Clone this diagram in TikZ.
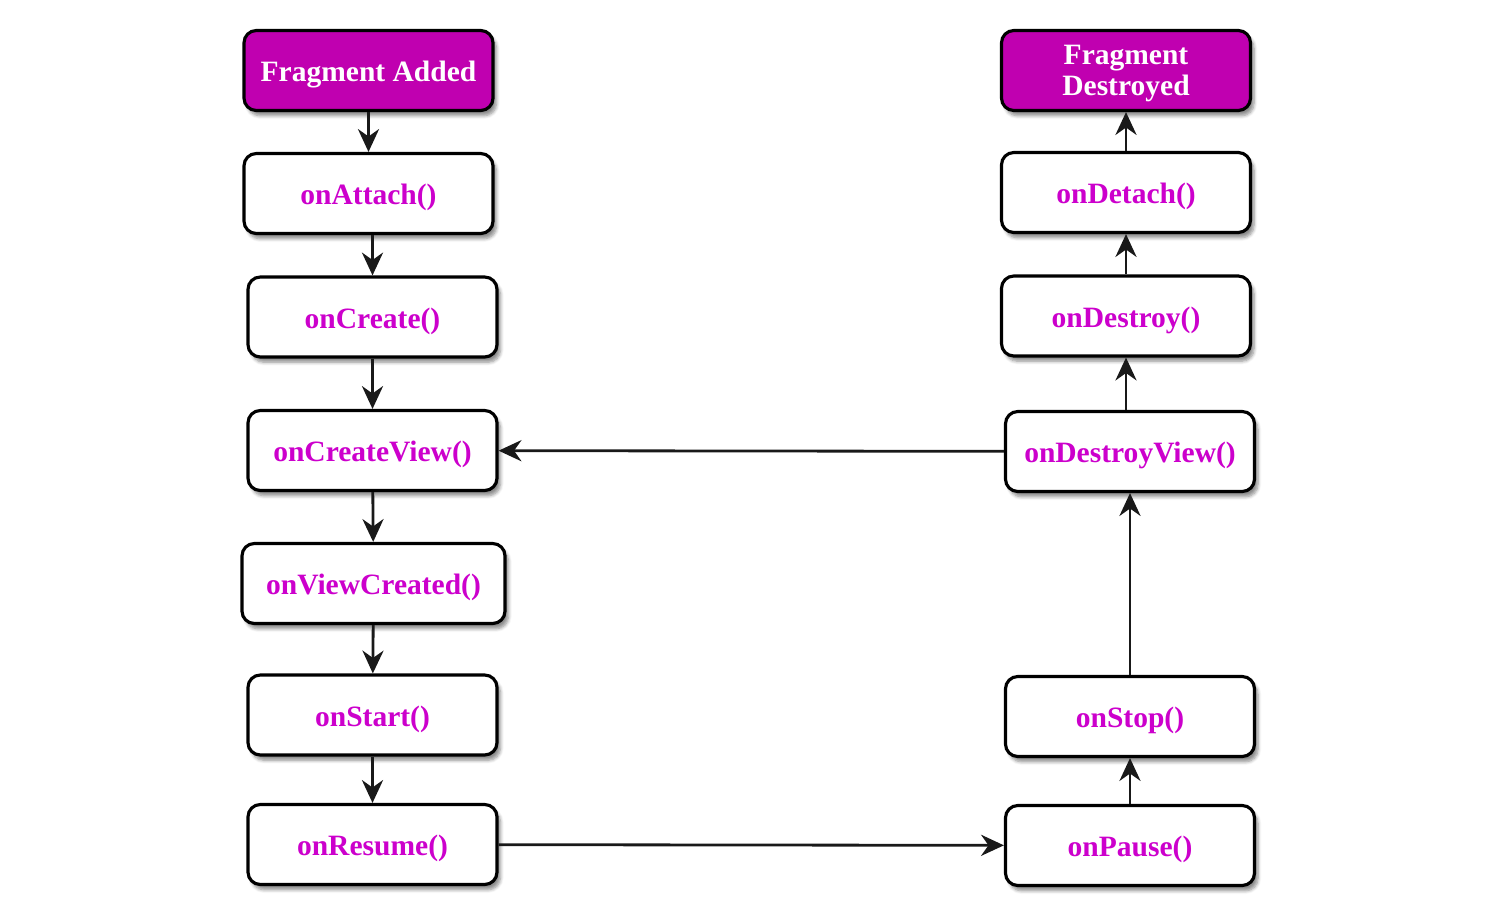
\documentclass[tikz,border=0pt]{standalone}
\usepackage{fontspec}
\setmainfont{Liberation Serif}
\usetikzlibrary{arrows.meta,shadows.blur}
\definecolor{fragfill}{RGB}{192,0,176}
\definecolor{fragtext}{RGB}{204,0,204}

\begin{document}
\begin{tikzpicture}[
    state/.style={draw, line width=1.8pt, rounded corners=7pt, minimum width=4.98cm, minimum height=1.6cm, align=center, font=\fontsize{16.8}{17.6}\selectfont\bfseries, text height=13pt, text depth=0pt, fill=white, text=fragtext, blur shadow={shadow xshift=2pt, shadow yshift=-3pt, shadow blur steps=6, shadow opacity=45}},
    ends/.style={state, fill=fragfill, text=white},
    arr/.style={-{Stealth[length=13pt, width=12pt]}, line width=1.6pt, black!90}
]
\useasboundingbox (0,0) rectangle (29.94,-18.3);
% left column: creation
\node[ends] (added) at (7.37,-1.41) {Fragment Added};
\node[state] (attach) at (7.37,-3.87) {onAttach()};
\node[state] (create) at (7.45,-6.34) {onCreate()};
\node[state] (createview) at (7.45,-9.01) {onCreateView()};
\node[state, minimum width=5.26cm] (viewcreated) at (7.47,-11.67) {onViewCreated()};
\node[state] (start) at (7.45,-14.30) {onStart()};
\node[state] (resume) at (7.45,-16.89) {onResume()};
% right column: teardown
\node[ends, text height=28.8pt] (destroyed) at (22.52,-1.41) {Fragment\\Destroyed};
\node[state] (detach) at (22.52,-3.85) {onDetach()};
\node[state] (destroy) at (22.52,-6.32) {onDestroy()};
\node[state] (destroyview) at (22.60,-9.03) {onDestroyView()};
\node[state] (stop) at (22.60,-14.33) {onStop()};
\node[state] (pause) at (22.60,-16.91) {onPause()};

\draw[arr] (added) -- (attach);
\draw[arr] (attach.south -| create.north) -- (create.north);
\draw[arr] (create) -- (createview);
\draw[arr] (createview) -- (viewcreated);
\draw[arr] (viewcreated) -- (start);
\draw[arr] (start) -- (resume);
\draw[arr] (resume) -- (pause);
\draw[arr] (pause) -- (stop);
\draw[arr] (stop) -- (destroyview);
\draw[arr] (destroyview) -- (createview);
\draw[arr] (destroyview.north -| destroy.south) -- (destroy.south);
\draw[arr] (destroy) -- (detach);
\draw[arr] (detach) -- (destroyed);
\end{tikzpicture}
\end{document}
